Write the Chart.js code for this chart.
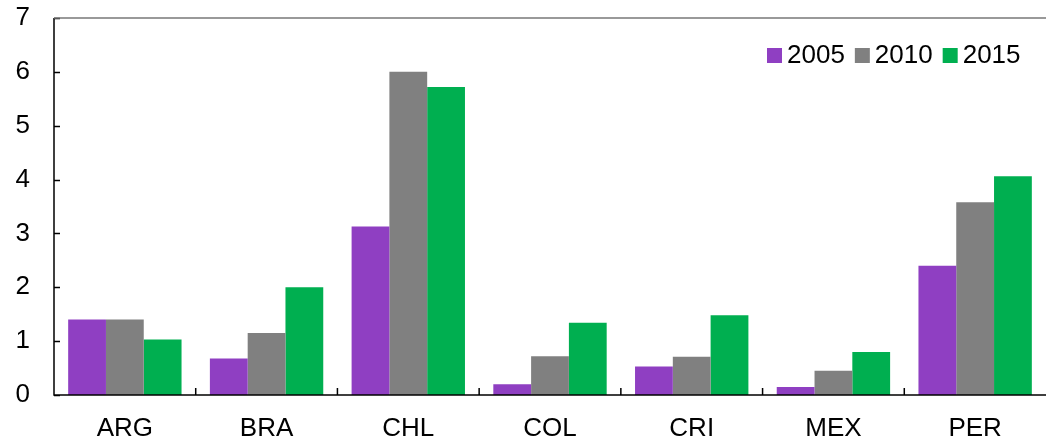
<!DOCTYPE html>
<html>
<head>
<meta charset="utf-8">
<script src="https://cdn.jsdelivr.net/npm/chart.js@4/dist/chart.umd.min.js"></script>
<style>
html, body { margin: 0; padding: 0; background: #fff; }
#wrap { width: 1046px; height: 438px; }
</style>
</head>
<body>
<div id="wrap"><canvas id="c"></canvas></div>
<script>
var categories = ['ARG', 'BRA', 'CHL', 'COL', 'CRI', 'MEX', 'PER'];
var seriesNames = ['2005', '2010', '2015'];
var v2005 = [1.40, 0.68, 3.13, 0.20, 0.53, 0.15, 2.40];
var v2010 = [1.40, 1.15, 6.00, 0.72, 0.71, 0.45, 3.58];
var v2015 = [1.03, 2.00, 5.72, 1.34, 1.48, 0.80, 4.06];
var colors = ['#8F3FC2', '#808080', '#00AF50'];

var font = 'Liberation Sans, Arial, sans-serif';

// ticks pointing inward, top border, floating legend
var decor = {
    id: 'decor',
    afterDraw: function(chart) {
        var ctx = chart.ctx, a = chart.chartArea;
        var x = chart.scales.x, y = chart.scales.y;
        ctx.save();
        ctx.strokeStyle = '#000';
        ctx.lineWidth = 1.5;
        ctx.beginPath();
        ctx.moveTo(a.left, a.top); ctx.lineTo(a.left, a.bottom); ctx.lineTo(a.right, a.bottom);
        for (var i = 0; i <= 7; i++) {
            var py = Math.round(y.getPixelForValue(i)) + 0.5;
            ctx.moveTo(a.left, py); ctx.lineTo(a.left + 6, py);
        }
        for (var j = 1; j < categories.length; j++) {
            var px = (x.getPixelForValue(j - 1) + x.getPixelForValue(j)) / 2;
            ctx.moveTo(px, a.bottom); ctx.lineTo(px, a.bottom - 7);
        }
        ctx.stroke();
        ctx.strokeStyle = '#777';
        ctx.beginPath();
        ctx.moveTo(a.left, a.top); ctx.lineTo(a.right, a.top);
        ctx.stroke();

        ctx.font = '26px ' + font;
        ctx.textBaseline = 'middle';
        var lx = 767, ly = 55;
        chart.data.datasets.forEach(function(ds) {
            ctx.fillStyle = ds.backgroundColor;
            ctx.fillRect(lx, ly - 7, 15, 15);
            ctx.fillStyle = '#000';
            ctx.fillText(ds.label, lx + 20, ly + 1);
            lx += 20 + ctx.measureText(ds.label).width + 10;
        });
        ctx.restore();
    }
};

new Chart(document.getElementById('c'), {
    type: 'bar',
    data: {
        labels: categories,
        datasets: [
            { label: seriesNames[0], data: v2005, backgroundColor: colors[0] },
            { label: seriesNames[1], data: v2010, backgroundColor: colors[1] },
            { label: seriesNames[2], data: v2015, backgroundColor: colors[2] }
        ]
    },
    options: {
        animation: false,
        responsive: true,
        maintainAspectRatio: false,
        layout: { padding: { top: 18, right: 0, bottom: 0, left: 0 } },
        datasets: { bar: { categoryPercentage: 0.8, barPercentage: 1.0, borderWidth: 0 } },
        plugins: { legend: { display: false }, tooltip: { enabled: false } },
        scales: {
            x: {
                grid: { display: false },
                border: { display: false },
                afterFit: function(s) { s.height = 43; },
                ticks: { color: '#000', font: { size: 26, family: font }, padding: 10 }
            },
            y: {
                min: 0, max: 7,
                grid: { display: false },
                border: { display: false },
                afterFit: function(s) { s.width = 54; s.paddingTop = 0; s.paddingBottom = 0; },
                ticks: { stepSize: 1, color: '#000', font: { size: 26, family: font }, padding: 16 }
            }
        }
    },
    plugins: [decor]
});
</script>
</body>
</html>
